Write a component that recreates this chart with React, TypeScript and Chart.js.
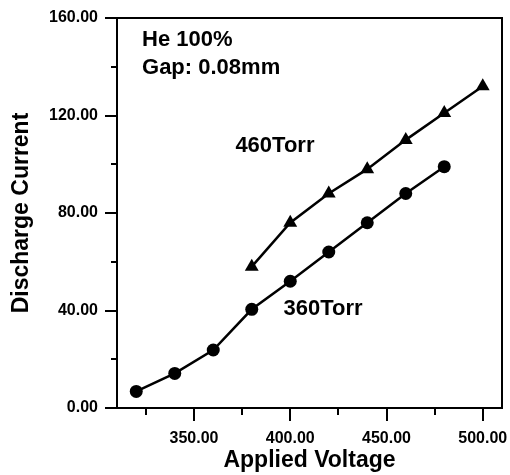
import React, { useEffect, useRef } from 'react';
import { Chart, registerables } from 'chart.js';
Chart.register(...registerables);

const voltage360 = [320, 340, 360, 380, 400, 420, 440, 460, 480];
const current360 = [6.8, 14.2, 23.8, 40.5, 52, 64, 76, 88, 99];
const voltage460 = [380, 400, 420, 440, 460, 480, 500];
const current460 = [58, 76, 88, 98, 110, 121, 132];
const xMajorTicks = [350, 400, 450, 500];
const xMinorTicks = [325, 375, 425, 475];
const yMajorTicks = [0, 40, 80, 120, 160];
const yMinorTicks = [20, 60, 100, 140];
const annotationTexts = ['He 100%', 'Gap: 0.08mm', '460Torr', '360Torr'];
const annotationX = [323, 323, 371.5, 396.5];
const annotationY = [151, 139.5, 107.5, 40.5];

const FONT = "'Liberation Sans', Arial, Helvetica, sans-serif";

const framePlugin = {
  id: 'frame',
  afterDraw(chart: any) {
    const { ctx, chartArea: a, scales } = chart;
    const xs = scales.x;
    const ys = scales.y;
    ctx.save();
    ctx.strokeStyle = '#000';
    ctx.lineWidth = 2;
    ctx.strokeRect(a.left, a.top, a.right - a.left, a.bottom - a.top);
    ctx.beginPath();
    xMajorTicks.forEach((v) => {
      const px = Math.round(xs.getPixelForValue(v));
      ctx.moveTo(px, a.bottom);
      ctx.lineTo(px, a.bottom + 13);
    });
    xMinorTicks.forEach((v) => {
      const px = Math.round(xs.getPixelForValue(v));
      ctx.moveTo(px, a.bottom);
      ctx.lineTo(px, a.bottom + 7);
    });
    yMajorTicks.forEach((v) => {
      const py = Math.round(ys.getPixelForValue(v));
      ctx.moveTo(a.left, py);
      ctx.lineTo(a.left - 12, py);
    });
    yMinorTicks.forEach((v) => {
      const py = Math.round(ys.getPixelForValue(v));
      ctx.moveTo(a.left, py);
      ctx.lineTo(a.left - 6, py);
    });
    ctx.stroke();
    ctx.fillStyle = '#000';
    ctx.font = `bold 22px ${FONT}`;
    ctx.textAlign = 'left';
    ctx.textBaseline = 'middle';
    annotationTexts.forEach((t, i) => {
      ctx.fillText(t, xs.getPixelForValue(annotationX[i]), ys.getPixelForValue(annotationY[i]));
    });
    ctx.restore();
  },
};

export default function App() {
  const ref = useRef<HTMLCanvasElement>(null);
  useEffect(() => {
    if (!ref.current) return;
    const chart = new Chart(ref.current, {
      type: 'line',
      data: {
        datasets: [
          {
            label: '360Torr',
            data: voltage360.map((v, i) => ({ x: v, y: current360[i] })),
            borderColor: '#000',
            backgroundColor: '#000',
            borderWidth: 2.5,
            pointStyle: 'circle',
            pointRadius: 6.5,
            pointBackgroundColor: '#000',
            pointBorderColor: '#000',
            pointBorderWidth: 0,
            tension: 0,
          },
          {
            label: '460Torr',
            data: voltage460.map((v, i) => ({ x: v, y: current460[i] })),
            borderColor: '#000',
            backgroundColor: '#000',
            borderWidth: 2.5,
            pointStyle: 'triangle',
            pointRadius: 8,
            pointBackgroundColor: '#000',
            pointBorderColor: '#000',
            pointBorderWidth: 0,
            tension: 0,
          },
        ],
      },
      options: {
        animation: false,
        responsive: false,
        devicePixelRatio: 1,
        layout: { padding: { top: 18, right: 6, left: 0, bottom: 0 } },
        plugins: { legend: { display: false }, tooltip: { enabled: false } },
        scales: {
          x: {
            type: 'linear',
            min: 310,
            max: 510,
            grid: { display: false, drawTicks: false },
            border: { display: false },
            afterBuildTicks: (s: any) => {
              s.ticks = xMajorTicks.map((v) => ({ value: v }));
            },
            afterFit: (s: any) => {
              s.height = 67;
              s.paddingLeft = 0;
              s.paddingRight = 0;
            },
            ticks: {
              padding: 21,
              maxRotation: 0,
              color: '#000',
              font: { family: FONT, size: 16, weight: 'bold' },
              callback: (v: any) => Number(v).toFixed(2),
            },
            title: {
              display: true,
              text: 'Applied Voltage',
              color: '#000',
              font: { family: FONT, size: 23, weight: 'bold' },
              padding: { top: 0, bottom: 1 },
            },
          },
          y: {
            type: 'linear',
            min: 0,
            max: 160,
            grid: { display: false, drawTicks: false },
            border: { display: false },
            afterBuildTicks: (s: any) => {
              s.ticks = yMajorTicks.map((v) => ({ value: v }));
            },
            afterFit: (s: any) => {
              s.width = 117;
              s.paddingTop = 0;
              s.paddingBottom = 0;
            },
            ticks: {
              padding: 19,
              color: '#000',
              font: { family: FONT, size: 16, weight: 'bold' },
              callback: (v: any) => Number(v).toFixed(2),
            },
            title: {
              display: true,
              text: 'Discharge Current',
              color: '#000',
              font: { family: FONT, size: 23, weight: 'bold' },
              padding: { top: 8, bottom: 0 },
            },
          },
        },
      },
      plugins: [framePlugin],
    } as any);
    return () => chart.destroy();
  }, []);
  return (
    <div style={{ position: 'absolute', left: 0, top: 0, width: 510, height: 475, background: '#fff' }}>
      <canvas ref={ref} width={510} height={475} />
    </div>
  );
}
